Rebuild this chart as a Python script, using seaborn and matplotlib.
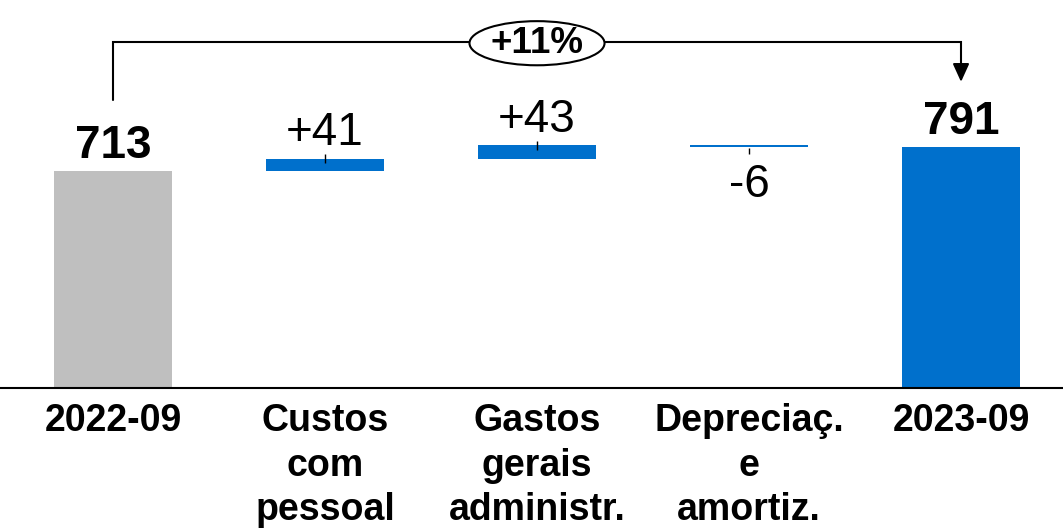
import matplotlib
matplotlib.use("Agg")
import matplotlib.pyplot as plt
from matplotlib.patches import Ellipse
import pandas as pd
import seaborn as sns

categories = ["2022-09", "Custos\ncom\npessoal", "Gastos\ngerais\nadministr.",
              "Depreciaç.\ne\namortiz.", "2023-09"]
start_value = 713
deltas = [41, 43, -6]
end_value = 791
growth_label = "+11%"
bar_colors = ["#BFBFBF", "#0070CC", "#0070CC", "#0070CC", "#0070CC"]

# build waterfall heights / bottoms
heights = [start_value]
bottoms = [0]
running = start_value
for d in deltas:
    heights.append(abs(d))
    bottoms.append(running if d >= 0 else running + d)
    running += d
heights.append(end_value)
bottoms.append(0)

labels = [str(start_value)] + [f"{d:+d}" for d in deltas] + [str(end_value)]
tops = [b + h for b, h in zip(bottoms, heights)]

df = pd.DataFrame({"cat": categories, "height": heights, "bottom": bottoms})

sns.set_style("white")
plt.rcParams["font.family"] = ["Liberation Sans", "DejaVu Sans"]
plt.rcParams["text.color"] = "black"
plt.rcParams["xtick.color"] = "black"

fig = plt.figure(figsize=(10.63, 5.32), dpi=100)
ax = fig.add_axes([0, 0.2707, 1, 0.7293])

sns.barplot(data=df, x="cat", y="height", bottom=df["bottom"], width=0.557,
            color=bar_colors[0], errorbar=None, ax=ax)
for patch, c in zip(ax.patches, bar_colors):
    patch.set_facecolor(c)
    patch.set_edgecolor("none")

ax.set_xlim(-0.533, 4.481)
ax.set_ylim(0, 1275)

# value labels
for i, (lab, top, b) in enumerate(zip(labels, tops, bottoms)):
    total = i in (0, len(labels) - 1)
    weight = "bold" if total else "normal"
    if lab.startswith("-"):
        ax.annotate(lab, (i, b), xytext=(0, -36), textcoords="offset points",
                    ha="center", va="baseline", fontsize=33, fontweight=weight)
    else:
        ax.annotate(lab, (i, top), xytext=(0, 9.5), textcoords="offset points",
                    ha="center", va="baseline", fontsize=33, fontweight=weight)

# small tick marks at delta bars
for i in range(1, 4):
    end = bottoms[i] + heights[i] if deltas[i - 1] >= 0 else bottoms[i]
    if deltas[i - 1] >= 0:
        ax.vlines(i, end - 14, end + 14, color="black", lw=1)
    else:
        ax.vlines(i, end - 22, end - 3, color="black", lw=1)

# growth bracket
y_br = 1137
ax.plot([0, 0, 4, 4], [946, y_br, y_br, 1055], color="black", lw=1.5,
        solid_joinstyle="miter")
ax.annotate("", xy=(4, 1006), xytext=(4, 1060),
            arrowprops=dict(arrowstyle="-|>,head_length=1.1,head_width=0.5",
                            color="black", lw=1.5, shrinkA=0, shrinkB=0))
ell = Ellipse((2, 1133), width=0.637, height=145, facecolor="white",
              edgecolor="black", lw=1.5, zorder=3)
ax.add_patch(ell)
ax.text(2, 1133, growth_label, ha="center", va="center", fontsize=26.5,
        fontweight="bold", zorder=4)

sns.despine(ax=ax, left=True)
ax.spines["bottom"].set_linewidth(1.5)
ax.spines["bottom"].set_color("black")
ax.set_yticks([])
ax.set_xlabel("")
ax.set_ylabel("")
ax.tick_params(axis="x", length=0, pad=11)
for t in ax.get_xticklabels():
    t.set_fontsize(27)
    t.set_fontweight("bold")
    t.set_linespacing(1.3)

fig.savefig("out.png", dpi=100)
